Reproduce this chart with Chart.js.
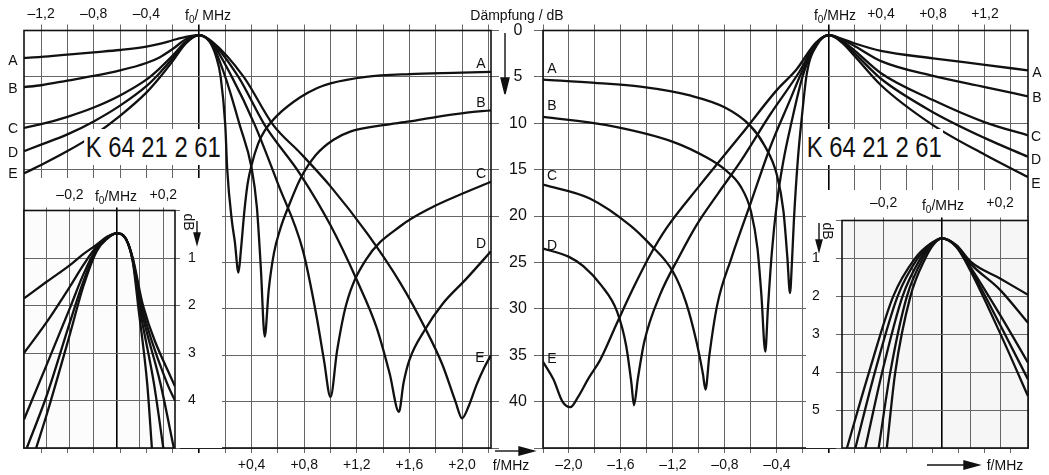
<!DOCTYPE html>
<html>
<head>
<meta charset="utf-8">
<script src="https://cdn.jsdelivr.net/npm/chart.js@4.4.1/dist/chart.umd.min.js"></script>
<style>
html, body { margin: 0; padding: 0; background: #fff; }
#wrap { position: relative; width: 1049px; height: 475px; overflow: hidden;
        font-family: "Liberation Sans", Arial, sans-serif; color: #111; }
#wrap canvas { position: absolute; left: 0; top: 0; }
.t { position: absolute; font-size: 14px; line-height: 16px; white-space: nowrap; transform: translate(-50%, -50%); }
.t sub { font-size: 10px; vertical-align: -3px; line-height: 0; }
.k { position: absolute; font-size: 29px; line-height: 32px; white-space: nowrap; background: #fff; padding: 2px 2px; }
.rot { transform: translate(-50%, -50%) rotate(90deg); }
svg { position: absolute; left: 0; top: 0; }
</style>
</head>
<body>
<div id="wrap">
  <canvas id="mainL" width="1049" height="475"></canvas>
  <canvas id="mainR" width="1049" height="475"></canvas>
  <canvas id="insL" width="1049" height="475"></canvas>
  <canvas id="insR" width="1049" height="475"></canvas>
  <div id="labels"></div>
  <svg width="1049" height="475">
    <g stroke="#111" stroke-width="1.4" fill="#111">
      <line x1="505" y1="33" x2="505" y2="84"/><polygon points="501,78 509,78 505,94"/>
      <line x1="495" y1="451" x2="522" y2="451"/><polygon points="519,447 519,455 534,451"/>
      <line x1="927" y1="465" x2="966" y2="465"/><polygon points="964,461 964,469 979,465"/>
      <line x1="197" y1="221" x2="197" y2="236"/><polygon points="194,233 200,233 197,244"/>
      <line x1="819" y1="223" x2="819" y2="242"/><polygon points="816,240 822,240 819,251"/>
    </g>
  </svg>
</div>
<script>
// Daempfung in dB ueber Verstimmung f - f0 in MHz, Kurven A..E
// linkes Hauptdiagramm
const mainL_A = [[-1.33,2.96],[-1.2,2.85],[-1.0,2.6],[-0.8,2.35],[-0.6,2.1],[-0.4,1.75],[-0.3,1.45],[-0.2,1.05],[-0.1,0.68],[0,0.5],
  [0.08,1.2],[0.13,2.8],[0.165,5],[0.2,10.2],[0.215,15],[0.25,20.5],[0.273,22.8],[0.30,26.1],
  [0.32,23.5],[0.345,19.5],[0.37,16.5],[0.40,14.5],[0.45,12.2],[0.5,10.8],[0.6,9.1],[0.77,7.2],[0.9,6.2],[1.0,5.7],[1.27,5.0],[1.6,4.7],[2.0,4.55],[2.22,4.45]];
const mainL_B = [[-1.33,6.1],[-1.2,5.9],[-1.0,5.4],[-0.8,4.9],[-0.6,4.3],[-0.4,3.5],[-0.3,2.9],[-0.2,2.0],[-0.1,0.95],[0,0.5],
  [0.1,1.5],[0.2,5.0],[0.31,10.2],[0.40,14.8],[0.44,19],[0.47,25.5],[0.50,33],
  [0.53,28],[0.57,24],[0.62,21.3],[0.68,19],[0.77,16],[0.89,13.4],[1.02,11.8],[1.15,10.9],[1.4,10.2],[1.6,9.8],[1.81,9.3],[2.01,8.9],[2.22,8.6]];
const mainL_C = [[-1.33,10.5],[-1.2,10.1],[-1.0,9.3],[-0.8,8.3],[-0.6,7.0],[-0.4,5.3],[-0.3,4.1],[-0.2,2.7],[-0.1,1.2],[0,0.5],
  [0.1,1.4],[0.25,5],[0.425,10.2],[0.6,16.5],[0.79,23.7],[0.89,30.5],[0.95,35.5],[1.0,39.5],
  [1.05,34.5],[1.12,29.5],[1.27,24.7],[1.53,21.1],[1.78,19],[2.0,17.6],[2.22,16.3]];
const mainL_D = [[-1.33,13.0],[-1.2,12.3],[-1.0,11.2],[-0.8,9.8],[-0.6,8.1],[-0.4,6.0],[-0.3,4.6],[-0.2,3.0],[-0.1,1.3],[0,0.5],
  [0.1,1.3],[0.3,5],[0.5,10.2],[0.77,15.5],[1.0,21],[1.2,26.9],[1.35,32],[1.45,37],[1.52,41.1],
  [1.555,38],[1.6,35.5],[1.72,32.2],[1.85,29.5],[2.03,26.8],[2.22,23.8]];
const mainL_E = [[-1.33,15.4],[-1.2,14.5],[-1.0,13.0],[-0.8,11.3],[-0.6,9.2],[-0.4,6.7],[-0.3,5.1],[-0.2,3.3],[-0.1,1.4],[0,0.5],
  [0.1,1.2],[0.34,5],[0.565,10.2],[0.77,13.2],[1.0,16.8],[1.28,21.9],[1.53,27.2],[1.72,32.1],[1.85,36],[1.95,40],[2.0,41.8],
  [2.05,40.5],[2.11,38.2],[2.17,36.3],[2.22,35]];

// rechtes Hauptdiagramm
const mainR_A = [[-2.2,5.3],[-1.8,5.65],[-1.45,6.05],[-1.07,7.0],[-0.8,8.3],[-0.61,10.2],[-0.5,12.3],[-0.4,15.6],[-0.35,19.5],[-0.32,24.5],[-0.30,28.3],
  [-0.285,25],[-0.27,20.5],[-0.24,14],[-0.21,9.5],[-0.17,4.6],[-0.09,1.5],[0,0.5],
  [0.1,0.9],[0.2,1.4],[0.4,2.2],[0.8,3.0],[1.2,3.7],[1.53,4.3]];
const mainR_B = [[-2.2,9.3],[-1.71,10.2],[-1.2,12.0],[-0.94,13.7],[-0.8,15.0],[-0.68,16.8],[-0.6,19.5],[-0.55,23.5],[-0.52,28.5],[-0.49,34.6],
  [-0.47,30],[-0.44,24],[-0.4,18.5],[-0.35,14],[-0.29,10],[-0.2,4.8],[-0.1,1.6],[0,0.5],
  [0.1,1.0],[0.2,1.7],[0.4,3.3],[0.8,4.9],[1.2,6.1],[1.53,7.1]];
const mainR_C = [[-2.2,16.6],[-1.84,18.1],[-1.53,21],[-1.38,23],[-1.2,26],[-1.1,29.3],[-1.02,33.5],[-0.97,37],[-0.95,38.7],
  [-0.92,35],[-0.86,29.6],[-0.75,24.5],[-0.6,18.5],[-0.45,12.5],[-0.3,7.5],[-0.21,4.5],[-0.1,1.5],[0,0.5],
  [0.1,1.1],[0.2,2.2],[0.4,4.6],[0.8,7.5],[1.2,9.9],[1.53,11.3]];
const mainR_D = [[-2.2,23.5],[-2.0,24.4],[-1.89,25.4],[-1.75,27.5],[-1.63,30.3],[-1.56,34],[-1.52,38],[-1.5,40.4],
  [-1.47,37.5],[-1.42,33.5],[-1.3,28.5],[-1.15,24.3],[-1.02,21],[-0.85,17.5],[-0.68,14.1],[-0.45,9],[-0.23,4.5],[-0.1,1.4],[0,0.5],
  [0.1,1.2],[0.2,2.5],[0.4,5.2],[0.8,8.8],[1.2,11.6],[1.53,13.6]];
const mainR_E = [[-2.2,35.7],[-2.12,37.6],[-2.05,40],[-1.99,40.6],[-1.93,39.5],[-1.85,37.5],[-1.76,35.5],[-1.63,31.5],[-1.5,27.6],[-1.38,24.3],[-1.25,21.3],[-1.0,16.8],[-0.68,11.3],[-0.4,6.4],[-0.25,4.2],[-0.1,1.3],[0,0.5],
  [0.1,1.3],[0.2,2.8],[0.4,5.9],[0.8,10.2],[1.2,13.4],[1.53,15.8]];

// Ausschnitt links (Durchlassbereich)
const insL_A = [[-0.397,1.85],[-0.3,1.5],[-0.2,1.15],[-0.143,0.92],[-0.086,0.72],[-0.04,0.55],[0,0.48],[0.04,0.6],[0.07,1.1],[0.092,2.0],[0.131,3.65],[0.151,5]];
const insL_B = [[-0.397,3.0],[-0.3,2.35],[-0.2,1.6],[-0.143,1.15],[-0.086,0.76],[-0.04,0.56],[0,0.48],[0.04,0.6],[0.07,1.08],[0.097,2.0],[0.16,3.65],[0.2,5]];
const insL_C = [[-0.397,4.4],[-0.3,3.25],[-0.2,2.05],[-0.143,1.35],[-0.086,0.8],[-0.04,0.57],[0,0.48],[0.04,0.6],[0.07,1.06],[0.102,2.0],[0.188,3.65],[0.245,5]];
const insL_D = [[-0.385,5.0],[-0.3,3.9],[-0.2,2.35],[-0.143,1.5],[-0.086,0.83],[-0.04,0.58],[0,0.48],[0.04,0.6],[0.07,1.04],[0.107,2.0],[0.217,3.65],[0.25,4.0]];
const insL_E = [[-0.345,5.0],[-0.3,4.3],[-0.2,2.6],[-0.143,1.6],[-0.086,0.86],[-0.04,0.59],[0,0.48],[0.04,0.6],[0.07,1.02],[0.113,2.0],[0.245,3.65],[0.25,3.7]];

// Ausschnitt rechts
const insR_A = [[-0.189,6],[-0.16,4],[-0.108,2],[-0.057,1],[-0.025,0.6],[0,0.47],[0.05,0.65],[0.1,1.09],[0.2,1.53],[0.296,1.96]];
const insR_B = [[-0.217,6],[-0.177,4],[-0.12,2],[-0.065,1],[-0.028,0.6],[0,0.47],[0.05,0.66],[0.1,1.15],[0.2,1.83],[0.296,2.7]];
const insR_C = [[-0.263,6],[-0.205,4],[-0.135,2],[-0.073,1],[-0.031,0.6],[0,0.47],[0.05,0.68],[0.1,1.25],[0.2,2.49],[0.296,3.75]];
const insR_D = [[-0.297,6],[-0.23,4],[-0.152,2],[-0.083,1],[-0.034,0.6],[0,0.47],[0.05,0.69],[0.1,1.3],[0.2,2.75],[0.296,4.19]];
const insR_E = [[-0.326,6],[-0.25,4],[-0.167,2],[-0.092,1],[-0.037,0.6],[0,0.47],[0.05,0.7],[0.1,1.35],[0.2,2.97],[0.296,4.63]];

const curveNames = ['A', 'B', 'C', 'D', 'E'];

const FONT = { family: '"Liberation Sans", Arial, sans-serif', size: 14 };
const FONT_DB = { family: '"Liberation Sans", Arial, sans-serif', size: 16 };
const INK = '#111';

// f-Beschriftung mit Komma und Vorzeichen
function mhz(v) {
    const r = Math.round(v * 10) / 10;
    return (r < 0 ? '\u2013' : '+') + Math.abs(r).toFixed(1).replace('.', ',');
}
const every04 = sign => v => {
    const r = Math.round(v * 10);
    return (r % 4 === 0 && r * sign > 0) ? mhz(v) : '';
};
const only02 = v => Math.abs(Math.round(v * 10)) === 2 ? mhz(v) : '';

const gridColor = ctx => (ctx.tick && Math.abs(ctx.tick.value) < 1e-6) ? '#000' : '#666';
const gridWidth = ctx => (ctx.tick && Math.abs(ctx.tick.value) < 1e-6) ? 1.6 : 1;
const fixW = w => s => { s.width = w; };
const fixH = h => s => { s.height = h; };

// Rahmen und weisse Abdeckung fuer die Ausschnitte
const framePlugin = {
    id: 'frame',
    beforeDraw(chart, args, opts) {
        const ctx = chart.ctx;
        if (opts.mask) {
            const m = opts.mask;
            ctx.save();
            ctx.fillStyle = '#fff';
            ctx.fillRect(m[0], m[1], m[2] - m[0], m[3] - m[1]);
            ctx.restore();
        }
        if (opts.bg) {
            const a = chart.chartArea;
            ctx.save();
            ctx.fillStyle = opts.bg;
            ctx.fillRect(a.left, a.top, a.width, a.height);
            ctx.restore();
        }
    },
    afterDatasetsDraw(chart) {
        const a = chart.chartArea;
        const ctx = chart.ctx;
        ctx.save();
        ctx.strokeStyle = INK;
        ctx.lineWidth = 1.6;
        ctx.strokeRect(a.left, a.top, a.width, a.height);
        ctx.restore();
    }
};

function xAxis(min, max, pos, step, cb, h, tickLen, pad, onArea) {
    return {
        type: 'linear', position: pos, min: min, max: max, afterFit: fixH(h),
        ticks: { stepSize: step, autoSkip: false, includeBounds: false, maxRotation: 0,
                 padding: pad, color: INK, font: FONT, callback: cb },
        grid: { color: gridColor, lineWidth: gridWidth, tickLength: tickLen, drawOnChartArea: onArea },
        border: { display: false }
    };
}

function yAxis(max, pos, step, cb, w, tickLen, pad, align, font) {
    return {
        type: 'linear', position: pos, min: 0, max: max, reverse: true, afterFit: fixW(w),
        ticks: { stepSize: step, padding: pad, color: INK, font: font || FONT, crossAlign: align,
                 display: cb !== null, callback: cb || (() => '') },
        grid: { color: '#666', lineWidth: 1, tickLength: tickLen },
        border: { display: false }
    };
}

function makeChart(id, curves, scales, padding, frameOpts) {
    return new Chart(document.getElementById(id), {
        type: 'line',
        data: {
            datasets: curves.map((c, i) => ({
                label: curveNames[i],
                data: c.map(p => ({ x: p[0], y: p[1] })),
                borderColor: INK,
                borderWidth: 2.3,
                pointRadius: 0,
                fill: false,
                cubicInterpolationMode: 'monotone'
            }))
        },
        options: {
            responsive: false,
            animation: false,
            devicePixelRatio: 1,
            layout: { padding: padding },
            plugins: { legend: { display: false }, tooltip: { enabled: false }, frame: frameOpts },
            scales: scales
        },
        plugins: [framePlugin]
    });
}

makeChart('mainL', [mainL_A, mainL_B, mainL_C, mainL_D, mainL_E], {
    x: xAxis(-1.33, 2.22, 'bottom', 0.2, every04(1), 27, 5, 4, true),
    x2: xAxis(-1.33, 2.22, 'top', 0.2, every04(-1), 30, 6, 2, false),
    y: yAxis(45, 'right', 5, v => v <= 40 ? String(v) : '', 60, 8, 10, 'center', FONT_DB)
}, { left: 24, right: 498, top: 0.5, bottom: 0 }, {});

makeChart('mainR', [mainR_A, mainR_B, mainR_C, mainR_D, mainR_E], {
    x: xAxis(-2.2, 1.531, 'bottom', 0.2, every04(-1), 27, 5, 4, true),
    x2: xAxis(-2.2, 1.531, 'top', 0.2, every04(1), 30, 6, 2, false),
    y: yAxis(45, 'left', 5, null, 10, 9, 0, 'near')
}, { left: 533, right: 21, top: 0.5, bottom: 0 }, {});

makeChart('insL', [insL_A, insL_B, insL_C, insL_D, insL_E], {
    x: xAxis(-0.397, 0.25, 'top', 0.1, only02, 35, 3, 4, true),
    y: yAxis(5, 'right', 1, v => (v >= 1 && v <= 4) ? String(v) : '', 30, 5, 8, 'center')
}, { left: 24, right: 844, top: 175.5, bottom: 27 }, { mask: [25, 178, 222, 448], bg: '#fcfcfc' });

makeChart('insR', [insR_A, insR_B, insR_C, insR_D, insR_E], {
    x: xAxis(-0.343, 0.296, 'top', 0.1, only02, 35, 3, 6, true),
    y: yAxis(6, 'left', 1, v => (v >= 1 && v <= 5) ? String(v) : '', 30, 6, 2, 'far')
}, { left: 812, right: 21, top: 185.5, bottom: 27 }, { mask: [806, 190, 1027, 448], bg: '#f6f6f6' });

// freie Beschriftung
const texts = [
    ['D\u00e4mpfung / dB', 517, 15],
    ['f<sub>0</sub>/ MHz', 208, 15],
    ['f<sub>0</sub>/MHz', 835, 15],
    ['f<sub>0</sub>/MHz', 116, 196],
    ['f<sub>0</sub>/MHz', 943, 205],
    ['f/MHz', 511, 465],
    ['f/MHz', 1005, 465],
    ['A', 13, 60], ['B', 13, 88], ['C', 13, 128], ['D', 13, 152], ['E', 13, 173],
    ['A', 481, 63], ['B', 481, 102], ['C', 481, 173], ['D', 481, 243], ['E', 480, 357],
    ['A', 552, 68], ['B', 552, 105], ['C', 552, 175], ['D', 552, 245], ['E', 552, 358],
    ['A', 1037, 72], ['B', 1037, 97], ['C', 1036, 136], ['D', 1036, 159], ['E', 1036, 183]
];
const layer = document.getElementById('labels');
texts.forEach(t => {
    const d = document.createElement('div');
    d.className = 't';
    d.innerHTML = t[0];
    d.style.left = t[1] + 'px';
    d.style.top = t[2] + 'px';
    layer.appendChild(d);
});
[[189, 222], [828, 231]].forEach(p => {
    const d = document.createElement('div');
    d.className = 't rot';
    d.textContent = 'dB';
    d.style.left = p[0] + 'px';
    d.style.top = p[1] + 'px';
    layer.appendChild(d);
});
[[153, 147], [874, 147]].forEach(p => {
    const d = document.createElement('div');
    d.className = 'k';
    d.textContent = 'K 64 21 2 61';
    layer.appendChild(d);
    const w = d.offsetWidth, h = d.offsetHeight;
    const sx = 138 / w;
    d.style.left = (p[0] - w / 2) + 'px';
    d.style.top = (p[1] - h / 2) + 'px';
    d.style.transform = 'scaleX(' + sx.toFixed(3) + ')';
});
</script>
</body>
</html>
